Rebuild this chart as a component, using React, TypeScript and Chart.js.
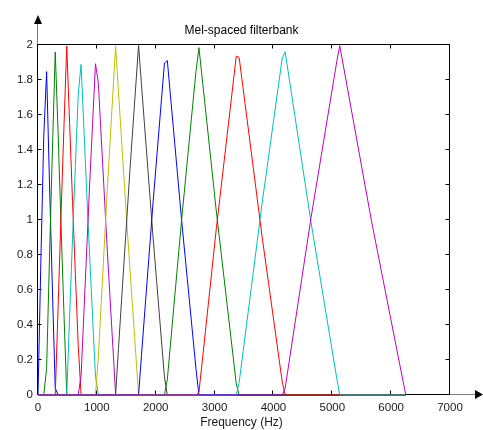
import React, { useEffect, useRef } from "react";
import { Chart, registerables } from "chart.js";

Chart.register(...registerables);

// ---- Text ----
const chartTitle = "Mel-spaced filterbank";
const xAxisTitle = "Frequency (Hz)";

// ---- Axes ----
const xMin = 0;
const xMax = 7000;
const yMin = 0;
const yMax = 2;
const xTickValues = [0, 1000, 2000, 3000, 4000, 5000, 6000, 7000];
const xTickLabels = ["0", "1000", "2000", "3000", "4000", "5000", "6000", "7000"];
const yTickValues = [0, 0.2, 0.4, 0.6, 0.8, 1, 1.2, 1.4, 1.6, 1.8, 2];
const yTickLabels = ["0", "0.2", "0.4", "0.6", "0.8", "1", "1.2", "1.4", "1.6", "1.8", "2"];

// frequency range covered by every filter (Hz); each filter is 0 outside its triangle
const freqStart = 0;
const freqEnd = 6250;

// ---- Filters: [frequency Hz, gain] vertices of each triangle ----
const filter1 = [[0, 0], [48.8, 0.764], [97.7, 1.479], [146.5, 1.848], [195.3, 1.213], [244.1, 0.611], [293, 0.04], [341.8, 0]];
const filter2 = [[97.7, 0], [146.5, 0.152], [195.3, 0.787], [244.1, 1.389], [293, 1.96], [341.8, 1.496], [390.6, 0.977], [439.5, 0.481], [488.3, 0.006], [537.1, 0]];
const filter3 = [[293, 0], [341.8, 0.504], [390.6, 1.023], [439.5, 1.519], [488.3, 1.994], [537.1, 1.55], [585.9, 1.113], [634.8, 0.689], [683.6, 0.282], [732.4, 0]];
const filter4 = [[488.3, 0], [537.1, 0.45], [585.9, 0.889], [634.8, 1.311], [683.6, 1.718], [732.4, 1.889], [781.3, 1.51], [830.1, 1.142], [878.9, 0.787], [927.7, 0.442], [976.6, 0.107], [1025.4, 0]];
const filter5 = [[683.6, 0], [732.4, 0.111], [878.9, 1.213], [976.6, 1.893], [1025.4, 1.782], [1171.9, 0.859], [1318.4, 0.005], [1367.2, 0]];
const filter6 = [[976.6, 0], [1025.4, 0.218], [1171.9, 1.141], [1318.4, 1.995], [1367.2, 1.734], [1513.7, 0.959], [1709, 0.001], [1757.8, 0]];
const filter7 = [[1318.4, 0], [1367.2, 0.266], [1562.5, 1.288], [1709, 1.999], [1757.8, 1.774], [1953.1, 0.908], [2148.4, 0.103], [2197.3, 0]];
const filter8 = [[1709, 0], [1757.8, 0.226], [1953.1, 1.092], [2148.4, 1.897], [2197.3, 1.911], [2441.4, 0.994], [2685.5, 0.146], [2734.4, 0]];
const filter9 = [[2148.4, 0], [2197.3, 0.089], [2441.4, 1.006], [2685.5, 1.854], [2734.4, 1.985], [3027.3, 1.057], [3369.1, 0.063], [3417.9, 0]];
const filter10 = [[2685.5, 0], [2734.4, 0.015], [3027.3, 0.943], [3369.1, 1.937], [3417.9, 1.928], [3808.6, 0.902], [4150.4, 0.074], [4199.2, 0]];
const filter11 = [[3369.1, 0], [3417.9, 0.072], [3808.6, 1.098], [4150.4, 1.926], [4199.2, 1.961], [4638.7, 0.987], [5078.1, 0.091], [5126.9, 0]];
const filter12 = [[4150.4, 0], [4199.2, 0.039], [4638.7, 1.013], [5078.1, 1.909], [5126.9, 1.996], [5664.1, 0.998], [6201.2, 0.08], [6250, 0]];

const filters = [filter1, filter2, filter3, filter4, filter5, filter6, filter7, filter8, filter9, filter10, filter11, filter12];

// MATLAB classic colour order
const filterColors = ["#0000FF", "#008000", "#FF0000", "#00BFBF", "#BF00BF", "#BFBF00", "#404040", "#0000FF", "#008000", "#FF0000", "#00BFBF", "#BF00BF"];

const FONT = "'Liberation Sans', Arial, Helvetica, sans-serif";

const axesPlugin = {
  id: "matlabAxes",
  beforeDatasetsDraw(chart: any) {
    const { ctx, chartArea, scales } = chart;
    const xs = scales.x;
    const ys = scales.y;
    const L = Math.round(chartArea.left) - 0.5;
    const R = Math.round(chartArea.right) - 0.5;
    const T = Math.round(chartArea.top) - 0.5;
    const B = Math.round(chartArea.bottom) - 0.5;
    ctx.save();
    ctx.lineWidth = 1;
    // extensions toward arrows
    ctx.strokeStyle = "#808080";
    ctx.beginPath();
    ctx.moveTo(L, T);
    ctx.lineTo(L, 24);
    ctx.moveTo(R, B);
    ctx.lineTo(475, B);
    ctx.stroke();
    // frame
    ctx.strokeStyle = "#000";
    ctx.beginPath();
    ctx.moveTo(L, B);
    ctx.lineTo(L, T);
    ctx.lineTo(R, T);
    ctx.lineTo(R, B);
    ctx.lineTo(L, B);
    ctx.stroke();
    // ticks (inward)
    const tl = 4;
    ctx.beginPath();
    xTickValues.forEach((v) => {
      const p = Math.round(xs.getPixelForValue(v)) - 0.5;
      ctx.moveTo(p, B);
      ctx.lineTo(p, B - tl);
      ctx.moveTo(p, T);
      ctx.lineTo(p, T + tl);
    });
    yTickValues.forEach((v) => {
      const p = Math.round(ys.getPixelForValue(v)) - 0.5;
      ctx.moveTo(L, p);
      ctx.lineTo(L + tl, p);
      ctx.moveTo(R, p);
      ctx.lineTo(R - tl, p);
    });
    ctx.stroke();
    // arrow heads
    ctx.fillStyle = "#000";
    ctx.beginPath();
    ctx.moveTo(L + 0.5, 15);
    ctx.lineTo(L - 3.5, 24);
    ctx.lineTo(L + 4.5, 24);
    ctx.closePath();
    ctx.fill();
    ctx.beginPath();
    ctx.moveTo(483, B);
    ctx.lineTo(475, B - 4.5);
    ctx.lineTo(475, B + 4.5);
    ctx.closePath();
    ctx.fill();
    ctx.restore();
  },
};

export default function App() {
  const canvasRef = useRef<HTMLCanvasElement | null>(null);

  useEffect(() => {
    document.body.style.margin = "0";
    const canvas = canvasRef.current;
    if (!canvas) return;

    const datasets = filters.map((f, i) => ({
      label: "filter " + (i + 1),
      data: [[freqStart, 0], ...f, [freqEnd, 0]].map(([x, y]) => ({ x, y })),
      borderColor: filterColors[i],
      backgroundColor: filterColors[i],
      borderWidth: 1,
      pointRadius: 0,
      tension: 0,
      fill: false,
      clip: false as any,
      order: filters.length - 1 - i,
    }));

    const tickFont = { family: FONT, size: 11.5 };

    const chart = new Chart(canvas, {
      type: "line",
      data: { datasets },
      options: {
        animation: false,
        responsive: false,
        devicePixelRatio: 1,
        layout: { padding: { left: 0, right: 0, top: 0, bottom: 0 } },
        plugins: {
          legend: { display: false },
          tooltip: { enabled: false },
          title: {
            display: true,
            text: chartTitle,
            color: "#000",
            font: { family: FONT, size: 12, weight: "normal" },
            padding: { top: 23.5, bottom: 7.1 },
          },
          subtitle: {
            display: true,
            position: "bottom",
            text: xAxisTitle,
            color: "#1a1a1a",
            font: { family: FONT, size: 12, weight: "normal" },
            padding: { top: 2, bottom: 0 },
          },
        },
        scales: {
          x: {
            type: "linear",
            min: xMin,
            max: xMax,
            grid: { display: false },
            border: { display: false },
            afterBuildTicks: (s: any) => {
              s.ticks = xTickValues.map((v) => ({ value: v }));
            },
            afterFit: (s: any) => {
              s.height = 18.6;
            },
            ticks: {
              autoSkip: false,
              maxRotation: 0,
              padding: -2.4,
              color: "#1a1a1a",
              font: tickFont,
              callback: (v: any) => xTickLabels[xTickValues.indexOf(Number(v))],
            },
          },
          y: {
            type: "linear",
            min: yMin,
            max: yMax,
            grid: { display: false },
            border: { display: false },
            afterBuildTicks: (s: any) => {
              s.ticks = yTickValues.map((v) => ({ value: v }));
            },
            afterFit: (s: any) => {
              s.width = 38;
            },
            ticks: {
              autoSkip: false,
              padding: -3,
              color: "#1a1a1a",
              font: tickFont,
              callback: (v: any) => {
                const idx = yTickValues.findIndex((t) => Math.abs(t - Number(v)) < 1e-9);
                return idx >= 0 ? yTickLabels[idx] : "";
              },
            },
          },
          yRightSpace: {
            type: "linear",
            position: "right",
            display: true,
            grid: { display: false },
            border: { display: false },
            ticks: { display: false },
            afterFit: (s: any) => {
              s.width = 33;
            },
          },
        },
      } as any,
      plugins: [axesPlugin],
    });

    return () => {
      chart.destroy();
    };
  }, []);

  return (
    <div style={{ width: 483, height: 430, background: "#fff" }}>
      <canvas ref={canvasRef} width={483} height={430} style={{ display: "block" }} />
    </div>
  );
}
